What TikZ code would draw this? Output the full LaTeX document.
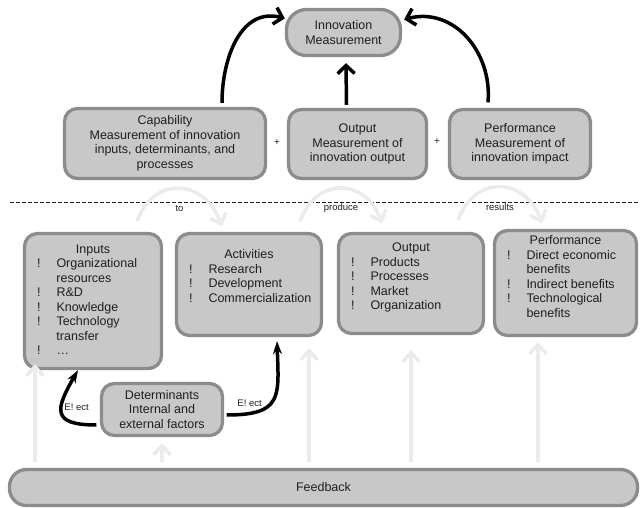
\documentclass[tikz,border=0pt]{standalone}
\usepackage{fontspec}
\setmainfont{Liberation Sans}
\usetikzlibrary{arrows.meta}
\definecolor{boxfill}{HTML}{C8C8C8}
\definecolor{boxline}{HTML}{8C8C8C}
\definecolor{ink}{HTML}{1E1E1E}
\definecolor{faint}{HTML}{EBEBEB}

\begin{document}
\begin{tikzpicture}[x=1pt, y=-1pt,
    box/.style={draw=boxline, fill=boxfill, line width=3.3pt, rounded corners=13pt, inner sep=0pt, text=ink, font=\fontsize{12.5}{14.5}\selectfont},
    lbl/.style={text=ink, inner sep=1pt, font=\fontsize{9.5}{11}\selectfont},
    strong/.style={draw=black, line width=3.5pt, -{Straight Barb[length=8pt,width=17pt]}},
    effect/.style={draw=black, line width=3.5pt, -{Stealth[length=13pt,width=9pt]}},
    faintarrow/.style={draw=faint, line width=3.5pt, -{Straight Barb[length=9pt,width=17pt]}},
    hop/.style={faintarrow, out=70, in=110, looseness=1.5}]
          \useasboundingbox (0,0) rectangle (640,508);
          \draw[ink, line width=0.8pt, dash pattern=on 3.5pt off 2.5pt] (10,202) -- (640,202);

          \node[box, rounded corners=20pt, minimum width=114pt, minimum height=46pt, align=center](innov) at (343.5,32.5) {Innovation\\Measurement};
          \node[box, minimum width=201pt, minimum height=70pt, align=center](cap)   at (165,143.5) {Capability\\Measurement of innovation\\inputs, determinants, and\\processes};
          \node[box, minimum width=138pt, minimum height=69pt, align=center](outm)  at (357.5,144) {Output\\Measurement of\\innovation output};
          \node[box, minimum width=141pt, minimum height=69pt, align=center](perfm) at (520,144)   {Performance\\Measurement of\\innovation impact};
          \node[lbl, font=\fontsize{10}{12}\selectfont](plus1) at (277,143) {+};
          \node[lbl, font=\fontsize{10}{12}\selectfont](plus2) at (437,142) {+};

          \node[box, minimum width=137pt, minimum height=135pt](inputs) at (93,301) {%
            \begin{tabular}{@{\hspace{12.5pt}}p{19.5pt}@{}p{105pt}@{}}
              \multicolumn{2}{@{}c@{}}{Inputs}\\
              ! & Organizational\\
                & resources\\
              ! & R\&D\\
              ! & Knowledge\\
              ! & Technology\\
                & transfer\\
              ! & \dots
            \end{tabular}};
          \node[box, minimum width=145pt, minimum height=102pt](act) at (249,284.5) {%
            \begin{tabular}{@{\hspace{12.5pt}}p{19.5pt}@{}p{113pt}@{}}
              \multicolumn{2}{@{}c@{}}{Activities}\\
              ! & Research\\
              ! & Development\\
              ! & Commercialization\\[14pt]
            \end{tabular}};
          \node[box, minimum width=145pt, minimum height=100pt](outp) at (411,283.5) {%
            \begin{tabular}{@{\hspace{12.5pt}}p{19.5pt}@{}p{113pt}@{}}
              \multicolumn{2}{@{}c@{}}{Output}\\
              ! & Products\\
              ! & Processes\\
              ! & Market\\
              ! & Organization\\[11pt]
            \end{tabular}};
          \node[box, minimum width=142pt, minimum height=105pt](perf) at (565.5,283) {%
            \begin{tabular}{@{\hspace{12.5pt}}p{19.5pt}@{}p{110pt}@{}}
              \multicolumn{2}{@{}c@{}}{Performance}\\
              ! & Direct economic\\
                & benefits\\
              ! & Indirect benefits\\
              ! & Technological\\
                & benefits\\[10pt]
            \end{tabular}};
          \node[box, minimum width=121pt, minimum height=52pt, align=center](det) at (162,409.5) {Determinants\\Internal and\\external factors};
          \node[box, rounded corners=17pt, minimum width=628pt, minimum height=36pt](fb) at (323.5,487.5) {Feedback};

          \path
            ([xshift=44pt,yshift=10.5pt]inputs.north) edge[hop] node[lbl, yshift=-20pt] {to} ([xshift=-27pt,yshift=5.5pt]act.north)
            ([xshift=51pt,yshift=10.5pt]act.north) edge[hop] node[lbl, yshift=-20pt] {produce} ([xshift=-29pt,yshift=8.5pt]outp.north)
            ([xshift=47pt,yshift=11.5pt]outp.north) edge[hop] node[lbl, yshift=-20pt] {results} ([xshift=-23.5pt,yshift=5.5pt]perf.north)
            ([xshift=57pt,yshift=4pt]cap.north) edge[strong, out=90, in=165, looseness=1.1] ([yshift=14pt]innov.west)
            ([xshift=-11pt,yshift=3pt]outm.north) edge[strong] ([xshift=2.5pt,yshift=-6pt]innov.south)
            ([xshift=-32pt,yshift=5.5pt]perfm.north) edge[strong, out=85, in=15, looseness=1.1] ([xshift=2pt,yshift=13pt]innov.east)
            ([xshift=-3.5pt,yshift=-15.5pt]det.west) edge[effect, out=180, in=-120, looseness=2] node[lbl, right, yshift=5pt] {E! ect} ([xshift=-15pt]inputs.south)
            ([xshift=2.5pt,yshift=-5.5pt]det.east) edge[effect, out=0, in=-88, looseness=1.6] node[lbl, pos=0.3, above left, xshift=2pt] {E! ect} ([xshift=28pt,yshift=-4pt]act.south)
            ([xshift=12pt]inputs.south west |- fb.north) edge[faintarrow, shorten <=6pt] ([xshift=12pt,yshift=6pt]inputs.south west)
            (det.south |- fb.north) edge[faintarrow, shorten <=6pt] ([yshift=-6pt]det.south)
            ([xshift=-14pt]act.south east |- fb.north) edge[faintarrow, shorten <=6pt] ([xshift=-14pt,yshift=-11pt]act.south east)
            (outp.south |- fb.north) edge[faintarrow, shorten <=6pt] ([yshift=-15pt]outp.south)
            ([xshift=-27.5pt]perf.south |- fb.north) edge[faintarrow, shorten <=6pt] ([xshift=-27.5pt,yshift=-5pt]perf.south)
            ;
        \end{tikzpicture}
\end{document}
